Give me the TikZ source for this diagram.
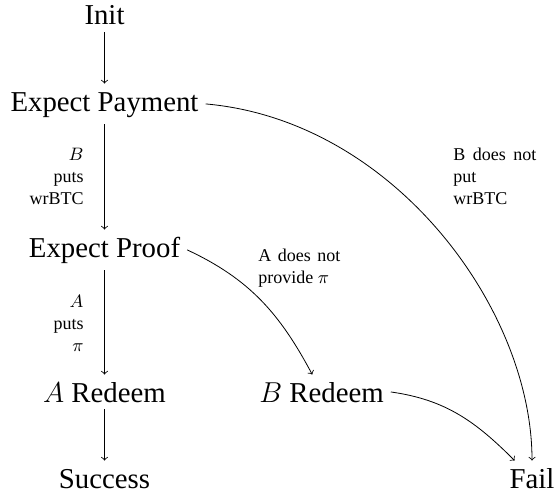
\documentclass[tikz,border=0pt]{standalone}
\usepackage{fontspec}
\setmainfont{Liberation Serif}
\begin{document}
\begin{tikzpicture}[x=0.5pt,y=0.5pt,
  state/.style={font=\Large, text height=10.2pt, anchor=base},
  lbl/.style={font=\small, inner sep=0pt},
  tr/.style={->}]
\useasboundingbox (0,0) rectangle (556,-498);
\node[state] (init) at (104.5,-25) {Init};
\node[state] (ep) at (104.5,-111) {Expect Payment};
\node[state] (epr) at (104.5,-257) {Expect Proof};
\node[state] (ared) at (104.5,-402) {$A$ Redeem};
\node[state] (succ) at (104.5,-488) {Success};
\node[state] (bred) at (321.5,-402) {$B$ Redeem};
\node[state] (fail) at (532,-488) {Fail};
\node[lbl, anchor=north east, align=right] (l1) at (84,-147.7) {$B$\\puts\\wrBTC};
\node[lbl, anchor=north east, align=right] (l2) at (84,-294.7) {$A$\\puts\\$\pi$};
\node[lbl, anchor=north west, align=left] (l3) at (453,-147.7) {\makebox[41.5pt][s]{B does not}\\put\\wrBTC};
\node[lbl, anchor=north west, align=left] (l4) at (258,-248.4) {\makebox[41pt][s]{A does not}\\provide $\pi$};
\draw[tr] (init) -- (ep);
\draw[tr] (ep) -- (epr);
\draw[tr] (epr) -- (ared);
\draw[tr] (ared) -- (succ);
\draw[tr] (ep.east) to[out=-5,in=90,in looseness=0.8] (fail);
\draw[tr] (epr.east) to[out=-25,in=118] (bred);
\draw[tr] (bred.east) to[out=-8,in=135] (fail);
\end{tikzpicture}
\end{document}
